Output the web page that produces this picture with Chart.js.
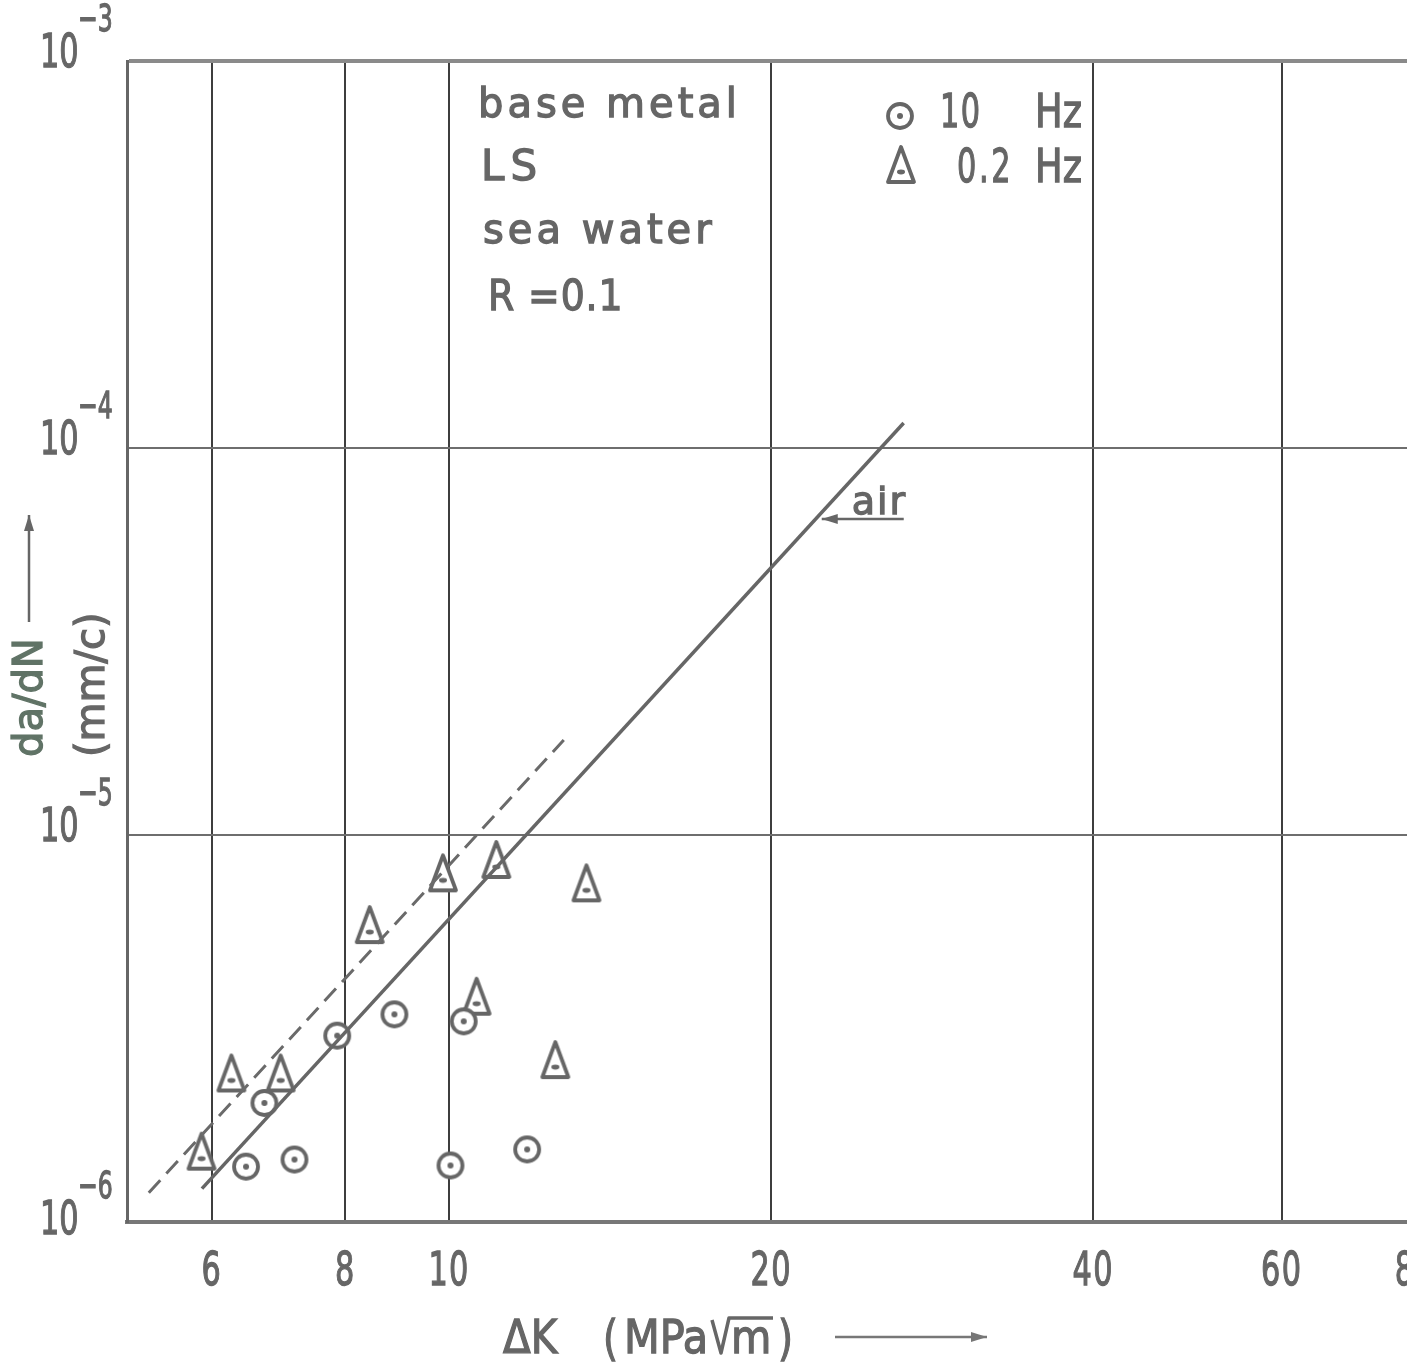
<!DOCTYPE html>
<html>
<head>
<meta charset="utf-8">
<script src="https://cdn.jsdelivr.net/npm/chart.js@4.4.1/dist/chart.umd.min.js"></script>
<style>
body { margin: 0; background: #fff; overflow: hidden; }
#wrap { width: 1540px; height: 1363px; }
</style>
</head>
<body>
<div id="wrap"><canvas id="chart" width="1540" height="1363"></canvas></div>
<script>

// delta K (MPa sqrt m) and crack growth rate (mm/cycle)
var hz10K = [6.46, 7.17, 6.72, 7.86, 8.89, 10.32, 10.03, 11.83];
var hz10Rate = [1.39e-6, 1.45e-6, 2.03e-6, 3.03e-6, 3.44e-6, 3.30e-6, 1.40e-6, 1.54e-6];
var hz02K = [5.87, 6.26, 6.96, 8.43, 9.87, 11.07, 13.44, 10.61, 12.57];
var hz02Rate = [1.52e-6, 2.42e-6, 2.42e-6, 5.85e-6, 7.96e-6, 8.62e-6, 7.50e-6, 3.82e-6, 2.62e-6];

// air reference line and sea water band line
var airK = [5.875, 26.6];
var airRate = [1.22e-6, 1.16e-4];
var seaK = [5.24, 12.8];
var seaRate = [1.19e-6, 1.76e-5];

var xTicks = [6, 8, 10, 20, 40, 60, 80];
var yTicks = [1e-6, 1e-5, 1e-4, 1e-3];
var yExp = ['\u22126', '\u22125', '\u22124', '\u22123'];

// where the "air" arrow touches the line
var airNote = { k: 22.3, rate: 6.55e-5 };

var ink = '#666';

function pts(xs, ys) {
	return xs.map(function (v, i) { return { x: v, y: ys[i] }; });
}

// open circle with a dot
function circleMark() {
	var c = document.createElement('canvas');
	c.width = 34; c.height = 34;
	var g = c.getContext('2d');
	g.beginPath();
	g.arc(17, 17, 12, 0, Math.PI * 2);
	g.fillStyle = '#fff';
	g.fill();
	g.lineWidth = 3.8;
	g.strokeStyle = ink;
	g.stroke();
	g.beginPath();
	g.arc(17, 17, 3, 0, Math.PI * 2);
	g.fillStyle = ink;
	g.fill();
	return c;
}

// tall triangle with a dot
function triMark() {
	var c = document.createElement('canvas');
	c.width = 32; c.height = 42;
	var g = c.getContext('2d');
	g.beginPath();
	g.moveTo(16, 3);
	g.lineTo(29, 38);
	g.lineTo(3, 38);
	g.closePath();
	g.fillStyle = '#fff';
	g.fill();
	g.lineWidth = 3.8;
	g.lineJoin = 'round';
	g.strokeStyle = ink;
	g.stroke();
	g.beginPath();
	g.ellipse(16, 28, 4, 2.4, 0, 0, Math.PI * 2);
	g.fillStyle = ink;
	g.fill();
	return c;
}

var circ = circleMark();
var tri = triMark();

function txt(ctx, s, x, y, size, opt) {
	opt = opt || {};
	ctx.save();
	ctx.font = size + 'px "DejaVu Sans"';
	ctx.fillStyle = opt.color || ink;
	ctx.strokeStyle = opt.color || ink;
	ctx.lineWidth = 1.3;
	ctx.textAlign = opt.align || 'left';
	ctx.textBaseline = 'alphabetic';
	ctx.letterSpacing = (opt.ls || 0) + 'px';
	ctx.translate(x, y);
	if (opt.rot) ctx.rotate(opt.rot);
	ctx.scale(opt.sx || 1, 1);
	ctx.fillText(s, 0, 0);
	ctx.strokeText(s, 0, 0);
	ctx.restore();
}

function arrowLine(ctx, x1, y1, x2, y2, color) {
	var a = Math.atan2(y2 - y1, x2 - x1);
	ctx.save();
	ctx.strokeStyle = color;
	ctx.fillStyle = color;
	ctx.lineWidth = 2.5;
	ctx.beginPath();
	ctx.moveTo(x1, y1);
	ctx.lineTo(x2, y2);
	ctx.stroke();
	ctx.beginPath();
	ctx.moveTo(x2, y2);
	ctx.lineTo(x2 - 16 * Math.cos(a) + 5 * Math.sin(a), y2 - 16 * Math.sin(a) - 5 * Math.cos(a));
	ctx.lineTo(x2 - 16 * Math.cos(a) - 5 * Math.sin(a), y2 - 16 * Math.sin(a) + 5 * Math.cos(a));
	ctx.closePath();
	ctx.fill();
	ctx.restore();
}

var labels = {
	id: 'labels',
	afterDraw: function (chart) {
		var ctx = chart.ctx;
		var xs = chart.scales.x, ys = chart.scales.y;

		// y tick labels as powers of ten
		yTicks.forEach(function (v, i) {
			var py = ys.getPixelForValue(v);
			var dy = v === 1e-6 ? 12 : 6;
			txt(ctx, '10', 40, py + dy, 46, { sx: 0.66 });
			txt(ctx, yExp[i], 78, py + dy - 36, 38, { sx: 0.62 });
		});

		// x tick labels
		xTicks.forEach(function (v) {
			txt(ctx, String(v), xs.getPixelForValue(v), 1285, 46, { sx: 0.66, align: 'center', ls: 2 });
		});

		// axis titles
		txt(ctx, '\u0394K', 503, 1353, 46, { sx: 0.88 });
		txt(ctx, '(', 603, 1355, 48, { sx: 0.8 });
		txt(ctx, 'MPa', 624, 1353, 46, { sx: 0.9 });
		ctx.save();
		ctx.strokeStyle = ink;
		ctx.lineWidth = 3.5;
		ctx.lineJoin = 'round';
		ctx.beginPath();
		ctx.moveTo(712, 1320);
		ctx.lineTo(721, 1353);
		ctx.lineTo(729, 1318);
		ctx.lineTo(773, 1318);
		ctx.stroke();
		ctx.restore();
		txt(ctx, 'm', 731, 1353, 46, { sx: 0.9 });
		txt(ctx, ')', 778, 1355, 48, { sx: 0.8 });
		arrowLine(ctx, 835, 1337, 987, 1337, '#777');

		txt(ctx, 'da/dN', 42, 757, 40, { rot: -Math.PI / 2, color: '#607366' });
		txt(ctx, '(mm/c)', 104, 757, 40, { rot: -Math.PI / 2 });
		arrowLine(ctx, 29, 622, 29, 515, '#666');

		// condition block
		txt(ctx, 'base metal', 478, 117, 40, { ls: 4 });
		txt(ctx, 'LS', 481, 180, 42, { ls: 6 });
		txt(ctx, 'sea water', 483, 243, 40, { ls: 4 });
		txt(ctx, 'R =0.1', 488, 310, 42, { ls: 1, sx: 0.9 });

		// key
		ctx.drawImage(circ, 900 - 17, 116 - 17);
		txt(ctx, '10', 940, 127, 46, { sx: 0.66, ls: 2 });
		txt(ctx, 'Hz', 1035, 127, 46, { sx: 0.8 });
		ctx.drawImage(tri, 901 - 16, 165 - 21);
		txt(ctx, '0.2', 957, 182, 46, { sx: 0.66, ls: 4 });
		txt(ctx, 'Hz', 1035, 182, 46, { sx: 0.8 });

		// "air" pointer
		var tx = xs.getPixelForValue(airNote.k);
		var ty = ys.getPixelForValue(airNote.rate);
		arrowLine(ctx, tx + 82, ty, tx, ty, '#666');
		txt(ctx, 'air', tx + 30, ty - 5, 38, { ls: 2 });
	}
};

var ctx = document.getElementById('chart');
var chart = new Chart(ctx, {
	type: 'scatter',
	data: {
		datasets: [{
			label: 'air',
			data: pts(airK, airRate),
			showLine: true,
			borderColor: '#666',
			borderWidth: 3.5,
			pointRadius: 0
		}, {
			label: 'sea water',
			data: pts(seaK, seaRate),
			showLine: true,
			borderColor: '#6a6a6a',
			borderWidth: 3,
			borderDash: [17, 9],
			pointRadius: 0
		}, {
			label: '10 Hz',
			data: pts(hz10K, hz10Rate),
			pointStyle: circ
		}, {
			label: '0.2 Hz',
			data: pts(hz02K, hz02Rate),
			pointStyle: tri
		}]
	},
	options: {
		responsive: false,
		animation: false,
		layout: { padding: { left: 127, top: 61, right: 21, bottom: 141 } },
		plugins: { legend: { display: false }, tooltip: { enabled: false } },
		scales: {
			x: {
				type: 'logarithmic',
				min: 5,
				max: 100,
				afterBuildTicks: function (s) { s.ticks = xTicks.map(function (v) { return { value: v }; }); },
				ticks: { display: false },
				grid: { color: '#3e3e3e', lineWidth: 2, drawTicks: false },
				border: { color: '#777', width: 4 }
			},
			y: {
				type: 'logarithmic',
				min: 1e-6,
				max: 1e-3,
				afterBuildTicks: function (s) { s.ticks = yTicks.map(function (v) { return { value: v }; }); },
				ticks: { display: false },
				grid: {
					drawTicks: false,
					color: function (c) { return c.tick && c.tick.value === 1e-3 ? '#8a8a8a' : '#6e6e6e'; },
					lineWidth: function (c) { return c.tick && c.tick.value === 1e-3 ? 4 : 2; }
				},
				border: { color: '#666', width: 3 }
			}
		}
	},
	plugins: [labels]
});
</script>
</body>
</html>
